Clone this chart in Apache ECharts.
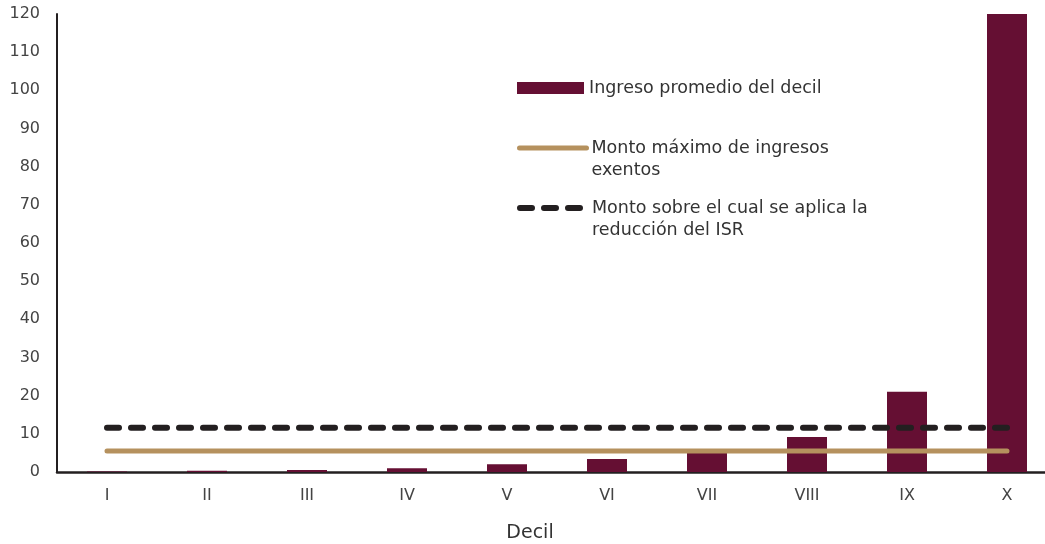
<!DOCTYPE html>
<html>
<head>
<meta charset="utf-8">
<script src="https://cdn.jsdelivr.net/npm/echarts@6/dist/echarts.min.js"></script>
<style>
  html, body { margin: 0; padding: 0; background: #fff; }
  #chart { width: 1045px; height: 544px; }
</style>
</head>
<body>
<div id="chart"></div>
<script>
// deciles
var categories = ['I', 'II', 'III', 'IV', 'V', 'VI', 'VII', 'VIII', 'IX', 'X']
// ingreso promedio del decil (el decil X sale del eje)
var ingresoPromedio = [0.1, 0.3, 0.5, 1.0, 2.0, 3.4, 5.0, 9.2, 21.0, 135]
// monto máximo de ingresos exentos
var montoExento = [5.5, 5.5, 5.5, 5.5, 5.5, 5.5, 5.5, 5.5, 5.5, 5.5]
// monto sobre el cual se aplica la reducción del ISR
var montoReduccion = [11.6, 11.6, 11.6, 11.6, 11.6, 11.6, 11.6, 11.6, 11.6, 11.6]

var nombres = [
  'Ingreso promedio del decil',
  'Monto máximo de ingresos\nexentos',
  'Monto sobre el cual se aplica la\nreducción del ISR'
]

var fuente = '"DejaVu Sans", sans-serif'
var legendText = { color: '#333', fontSize: 17.5, fontFamily: fuente, lineHeight: 22 }
var sinSimbolo = { color: 'rgba(0,0,0,0)', borderWidth: 0 }
// linea en blanco arriba para que la primera linea quede a la altura del icono
var bajarTexto = function (n) { return '\n' + n }

var myChart = echarts.init(document.getElementById('chart'))
myChart.setOption({
  animation: false,
  grid: { left: 57, top: 14, width: 1000, height: 458, outerBoundsMode: 'none', containLabel: false },
  legend: [
    {
      data: [nombres[0]], left: 512, top: 72, orient: 'vertical',
      itemWidth: 67, itemHeight: 12, icon: 'rect', textStyle: legendText
    },
    {
      data: [nombres[1]], left: 512, top: 110, orient: 'vertical',
      itemWidth: 67, itemHeight: 12, textStyle: legendText, formatter: bajarTexto,
      itemStyle: sinSimbolo,
      lineStyle: { color: '#b5915e', width: 5, cap: 'round' }
    },
    {
      data: [nombres[2]], left: 512, top: 170, orient: 'vertical',
      itemWidth: 67, itemHeight: 12, textStyle: legendText, formatter: bajarTexto,
      itemStyle: sinSimbolo,
      lineStyle: { color: '#231f20', width: 6, type: [12, 12], cap: 'round' }
    }
  ],
  xAxis: {
    type: 'category',
    data: categories,
    name: 'Decil',
    nameLocation: 'middle',
    nameGap: 52,
    nameTextStyle: { color: '#333', fontSize: 19, fontFamily: fuente, padding: [0, 54, 0, 0] },
    axisLine: { lineStyle: { color: '#231f20', width: 2.5 } },
    axisTick: { show: false },
    axisLabel: { color: '#444', fontSize: 16, fontFamily: fuente, margin: 16 }
  },
  yAxis: {
    type: 'value',
    min: 0,
    max: 120,
    interval: 10,
    axisLine: { show: true, lineStyle: { color: '#231f20', width: 2 } },
    axisTick: { show: false },
    splitLine: { show: false },
    axisLabel: { color: '#444', fontSize: 16, fontFamily: fuente, margin: 17 }
  },
  series: [
    {
      name: nombres[0],
      type: 'bar',
      data: ingresoPromedio,
      barWidth: 40,
      clip: true,
      itemStyle: { color: '#650f33' }
    },
    {
      name: nombres[1],
      type: 'line',
      data: montoExento,
      symbol: 'none',
      lineStyle: { color: '#b5915e', width: 5, cap: 'round' },
      itemStyle: { color: '#b5915e' }
    },
    {
      name: nombres[2],
      type: 'line',
      data: montoReduccion,
      symbol: 'none',
      lineStyle: { color: '#231f20', width: 6, type: [12, 12], cap: 'round' },
      itemStyle: { color: '#231f20' }
    }
  ]
})
</script>
</body>
</html>
